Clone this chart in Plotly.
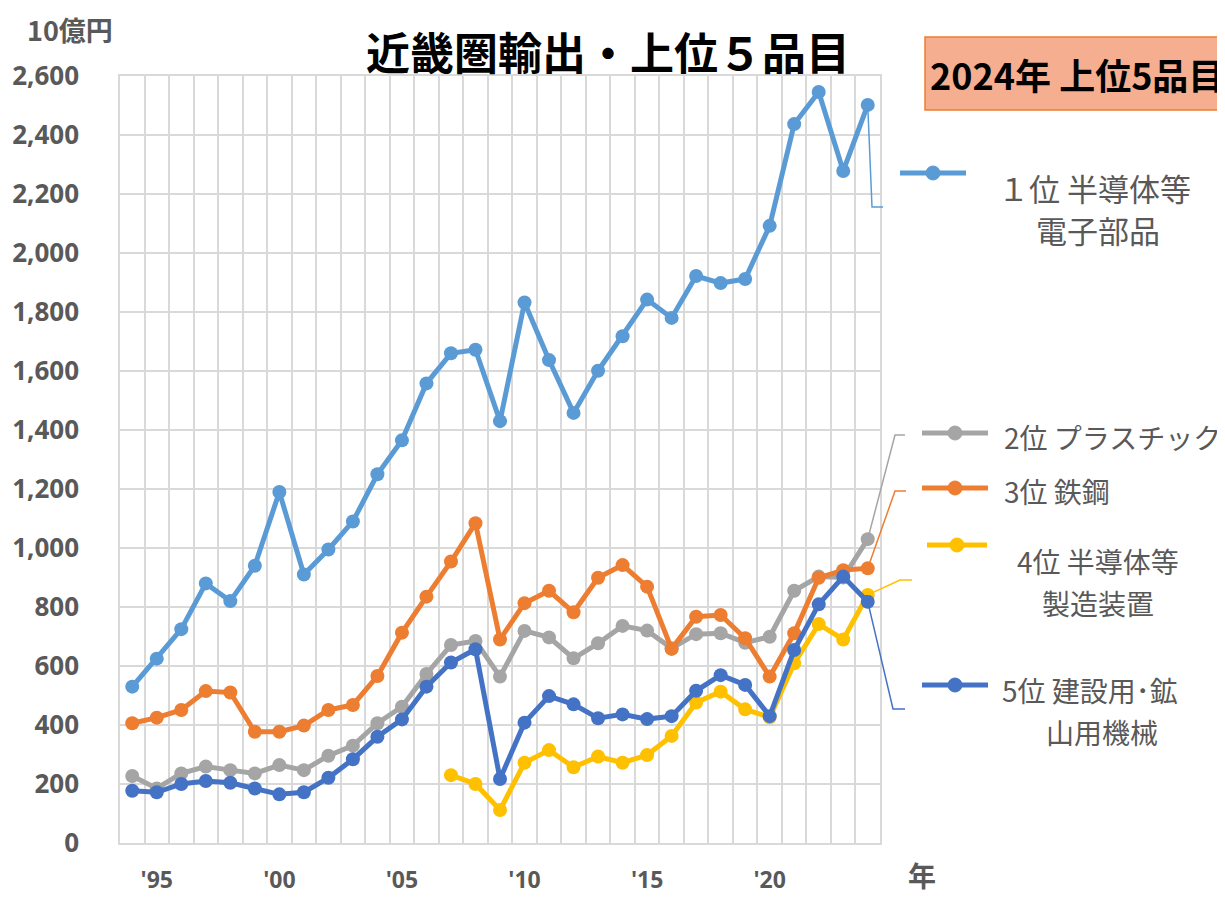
import plotly.graph_objects as go

# ---------------- data ----------------
years = list(range(1994, 2025))
s1_semicon_parts = [530, 625, 725, 880, 820, 940, 1190, 910, 995, 1090, 1250, 1365, 1558, 1660, 1672,
                    1430, 1832, 1637, 1458, 1601, 1718, 1842, 1780, 1922, 1898, 1912, 2092, 2437, 2546, 2278, 2502]
s2_plastic = [227, 185, 236, 259, 247, 236, 264, 247, 296, 330, 406, 462, 573, 671, 685,
              564, 719, 697, 626, 677, 736, 720, 660, 708, 711, 679, 699, 855, 903, 900, 1030]
s3_steel = [406, 425, 451, 515, 510, 377, 377, 398, 451, 468, 566, 713, 835, 954, 1084,
            690, 813, 855, 782, 899, 942, 869, 658, 767, 773, 694, 564, 711, 899, 925, 931]
s4_semicon_equip = [None] * 13 + [230, 200, 112, 272, 315, 257, 293, 272, 298, 363, 476, 513,
                                  453, 426, 609, 742, 690, 841]
s5_construction = [177, 172, 200, 210, 204, 185, 165, 172, 221, 284, 360, 419, 530, 612, 657,
                   217, 408, 498, 470, 423, 436, 420, 430, 516, 569, 536, 430, 654, 809, 903, 818]

series_names = ["１位 半導体等電子部品", "2位 プラスチック", "3位 鉄鋼", "4位 半導体等製造装置", "5位 建設用･鉱山用機械"]
series_values = [s1_semicon_parts, s2_plastic, s3_steel, s4_semicon_equip, s5_construction]
series_colors = ["#5B9BD5", "#A5A5A5", "#ED7D31", "#FFC000", "#4472C4"]

x_tick_vals = [1995, 2000, 2005, 2010, 2015, 2020]
x_tick_text = ["'95", "'00", "'05", "'10", "'15", "'20"]

title_text = "近畿圏輸出・上位５品目"
box_text = "2024年 上位5品目"
unit_text = "10億円"
year_text = "年"

# ---------------- layout geometry (page pixel coordinates) ----------------
PAGE_W, PAGE_H = 1225, 898
OFF = 8  # page body margin
W, H = PAGE_W - OFF, PAGE_H - OFF
L, R, T, B = 120, 880, 76, 843
PW, PH = R - L, B - T


def px(x):
    return (x - L) / PW


def py(y):
    return (B - y) / PH


JP = "Noto Sans CJK JP"
GRAY_TXT = "#595959"
GRID = "#D9D9D9"

fig = go.Figure()
for name, vals, col in zip(series_names, series_values, series_colors):
    fig.add_trace(go.Scatter(
        x=years, y=vals, name=name, mode="lines+markers",
        line=dict(color=col, width=5),
        marker=dict(color=col, size=14),
        connectgaps=False,
        showlegend=False,
    ))

shapes = []
annotations = []

# leader lines (from last data point to legend label)
x_last = (2024 - 1993.5) / 31
leader_geo = [
    (s1_semicon_parts[-1], [(872, 207), (883, 207)]),
    (s2_plastic[-1], [(895, 435), (905, 435)]),
    (s3_steel[-1], [(895, 491), (906, 491)]),
    (s4_semicon_equip[-1], [(900, 580), (912, 580)]),
    (s5_construction[-1], [(893, 709), (905, 709)]),
]
for (val, pts), col in zip(leader_geo, series_colors):
    path = f"M {x_last},{val / 2600}"
    for (a, b) in pts:
        path += f" L {px(a)},{py(b)}"
    shapes.append(dict(type="path", xref="paper", yref="paper", path=path,
                       line=dict(color=col, width=1.5)))

# legend samples
legend_geo = [(900, 966, 173), (922, 988, 433), (922, 988, 488), (927, 987, 545), (922, 988, 685)]
for (x0, x1, yy), col in zip(legend_geo, series_colors):
    shapes.append(dict(type="line", xref="paper", yref="paper",
                       x0=px(x0), x1=px(x1), y0=py(yy), y1=py(yy),
                       line=dict(color=col, width=5)))
    cx = (x0 + x1) / 2
    r = 7
    shapes.append(dict(type="circle", xref="paper", yref="paper",
                       x0=px(cx - r), x1=px(cx + r), y0=py(yy + r), y1=py(yy - r),
                       fillcolor=col, line=dict(color=col, width=1)))

# 2024 box
shapes.append(dict(type="rect", xref="paper", yref="paper",
                   x0=px(925), x1=px(1240), y0=py(110), y1=py(37),
                   fillcolor="#F5AF90", line=dict(color="#ED7D31", width=1.5), layer="above"))

legend_text = [
    ("１位 半導体等", 1094, 187, "center", 31),
    ("電子部品", 1098, 229, "center", 31),
    ("2位 プラスチック", 1002, 437, "left", 28),
    ("3位 鉄鋼", 1002, 491, "left", 28),
    ("4位 半導体等", 1098, 561, "center", 28),
    ("製造装置", 1098, 603, "center", 28),
    ("5位 建設用･鉱", 1000, 690, "left", 28),
    ("山用機械", 1102, 732, "center", 28),
]
for txt, x, y, anc, sz in legend_text:
    annotations.append(dict(text=txt, xref="paper", yref="paper", x=px(x), y=py(y),
                            xanchor=anc, yanchor="middle", showarrow=False,
                            font=dict(family=JP, size=sz, color=GRAY_TXT)))

annotations += [
    dict(text=f"<b>{title_text}</b>", xref="paper", yref="paper", x=px(608), y=py(51),
         xanchor="center", yanchor="middle", showarrow=False,
         font=dict(family=JP, size=44, color="#000000")),
    dict(text=f"<b>{box_text}</b>", xref="paper", yref="paper", x=px(1077), y=py(74),
         xanchor="center", yanchor="middle", showarrow=False,
         font=dict(family=JP, size=36, color="#000000")),
    dict(text=f"<b>{unit_text}</b>", xref="paper", yref="paper", x=px(26), y=py(9),
         xanchor="left", yanchor="top", showarrow=False, borderpad=0,
         font=dict(family=JP, size=27, color=GRAY_TXT)),
    dict(text=f"<b>{year_text}</b>", xref="paper", yref="paper", x=px(922), y=py(896),
         xanchor="center", yanchor="bottom", showarrow=False, borderpad=0,
         font=dict(family=JP, size=28, color=GRAY_TXT)),
]

fig.update_layout(
    width=W, height=H,
    margin=dict(l=L - OFF, r=PAGE_W - R, t=T - OFF, b=PAGE_H - B, pad=0, autoexpand=False),
    paper_bgcolor="white", plot_bgcolor="white",
    shapes=shapes, annotations=annotations,
    showlegend=False,
    xaxis=dict(
        range=[1993.5, 2024.5], automargin=False,
        tickmode="array", tickvals=x_tick_vals, ticktext=x_tick_text,
        showgrid=False, zeroline=False,
        showline=True, linecolor=GRID, linewidth=1.5, mirror=True,
        ticks="", ticklabelstandoff=16,
        tickfont=dict(family="Open Sans", size=23, color=GRAY_TXT, weight="bold"),
        minor=dict(tickmode="linear", tick0=1993.5, dtick=1, showgrid=True,
                   gridcolor=GRID, gridwidth=1.5, ticks=""),
    ),
    yaxis=dict(
        range=[0, 2600], dtick=200, tick0=0, tickformat=",", automargin=False,
        showgrid=True, gridcolor=GRID, gridwidth=1.5, zeroline=False,
        showline=True, linecolor=GRID, linewidth=1.5, mirror=True,
        ticks="", ticklabelstandoff=34,
        tickfont=dict(family="Open Sans", size=26, color=GRAY_TXT, weight="bold"),
    ),
)

fig.write_html("out.html")
